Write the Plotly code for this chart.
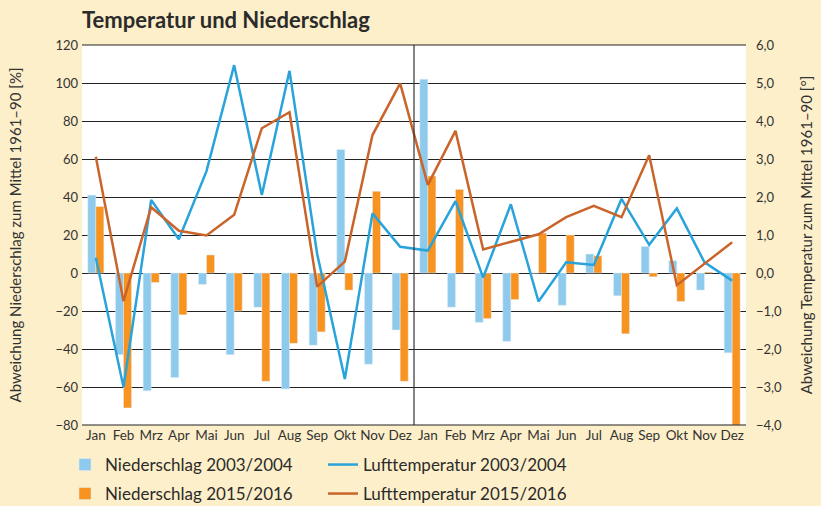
import plotly.graph_objects as go

# month labels (two years side by side)
months = ['Jan', 'Feb', 'Mrz', 'Apr', 'Mai', 'Jun', 'Jul', 'Aug', 'Sep', 'Okt', 'Nov', 'Dez']
labels = months + months

# precipitation deviation [%]
rain_0304 = [41, -43, -62, -55, -6, -43, -18, -61, -38, 65, -48, -30,
             102, -18, -26, -36, 0, -17, 10, -12, 14, 6.5, -9, -42]
rain_1516 = [35, -71, -5, -22, 9.5, -20, -57, -37, -31, -9, 43, -57,
             51, 44, -24, -14, 21, 20, 9, -32, -2, -15, 0.5, -80]

# air temperature deviation [°C]
temp_0304 = [0.4, -3.0, 1.92, 0.89, 2.68, 5.47, 2.05, 5.32, 0.5, -2.79, 1.57, 0.69,
             0.59, 1.89, -0.12, 1.81, -0.75, 0.28, 0.21, 1.95, 0.74, 1.70, 0.28, -0.2]
temp_1516 = [3.06, -0.74, 1.73, 1.11, 0.99, 1.53, 3.81, 4.23, -0.36, 0.3, 3.63, 4.99,
             2.32, 3.74, 0.62, 0.82, 1.02, 1.47, 1.77, 1.47, 3.1, -0.32, 0.25, 0.81]

x = list(range(len(labels)))
font = 'Lato'
W, H = 821, 506

fig = go.Figure()
fig.add_trace(go.Bar(x=x, y=rain_0304, name='Niederschlag 2003/2004', marker_color='#8ECAEC',
                     legend='legend'))
fig.add_trace(go.Scatter(x=x, y=temp_0304, name='Lufttemperatur 2003/2004', yaxis='y2',
                         mode='lines', line=dict(color='#29A3DB', width=2.5), legend='legend'))
fig.add_trace(go.Bar(x=x, y=rain_1516, name='Niederschlag 2015/2016', marker_color='#F7931E',
                     legend='legend2'))
fig.add_trace(go.Scatter(x=x, y=temp_1516, name='Lufttemperatur 2015/2016', yaxis='y2',
                         mode='lines', line=dict(color='#C9642B', width=2.5), legend='legend2'))

# divider between the two years
mid = len(months) - 0.5
fig.add_shape(type='line', xref='x', yref='paper', x0=mid, x1=mid, y0=0, y1=1,
              line=dict(color='#333333', width=1.2))

leg = dict(orientation='h', xref='container', yref='container', x=65 / W, xanchor='left',
           yanchor='middle', entrywidth=213, entrywidthmode='pixels', traceorder='normal',
           font=dict(size=17, color='#2b2b2b'), bgcolor='rgba(0,0,0,0)')

fig.update_layout(
    width=W, height=H,
    paper_bgcolor='#FDEFC9', plot_bgcolor='white',
    margin=dict(l=82, r=75, t=45, b=81, autoexpand=False),
    separators=',.',
    barmode='group', bargap=0.42, bargroupgap=0,
    font=dict(family=font, size=13, color='#333333'),
    title=dict(text='<b>Temperatur und Niederschlag</b>', x=82 / W, xanchor='left',
               y=1 - 20 / H, yanchor='middle', font=dict(size=22, color='#2b2b2b')),
    xaxis=dict(range=[-0.5, len(labels) - 0.5], tickvals=x, ticktext=labels,
               showgrid=False, zeroline=False, ticks='', tickfont=dict(size=13.5)),
    yaxis=dict(range=[-80, 120], dtick=20, showgrid=True, gridcolor='#222222', gridwidth=1.2,
               zeroline=True, zerolinecolor='#222222', zerolinewidth=1.3,
               ticks='', tickfont=dict(size=13), ticklabelstandoff=3,
               title=dict(text='Abweichung Niederschlag zum Mittel 1961–90 [%]',
                          font=dict(size=15), standoff=30)),
    yaxis2=dict(range=[-4, 6], dtick=1, tickformat='.1f', overlaying='y', side='right',
                showgrid=False, zeroline=False, ticks='', tickfont=dict(size=13),
                ticklabelstandoff=9,
                title=dict(text='Abweichung Temperatur zum Mittel 1961–90 [°]',
                           font=dict(size=15), standoff=20)),
    legend=dict(leg, y=1 - 465 / H),
    legend2=dict(leg, y=1 - 494 / H),
)

# top and bottom border of plot
fig.add_shape(type='line', xref='paper', yref='paper', x0=0, x1=1, y0=1, y1=1,
              line=dict(color='#222222', width=1.2))
fig.add_shape(type='line', xref='paper', yref='paper', x0=0, x1=1, y0=0, y1=0,
              line=dict(color='#222222', width=1.2))

fig.write_html('out.html', config={'displayModeBar': False},
               post_script='document.body.style.margin = "0";')
